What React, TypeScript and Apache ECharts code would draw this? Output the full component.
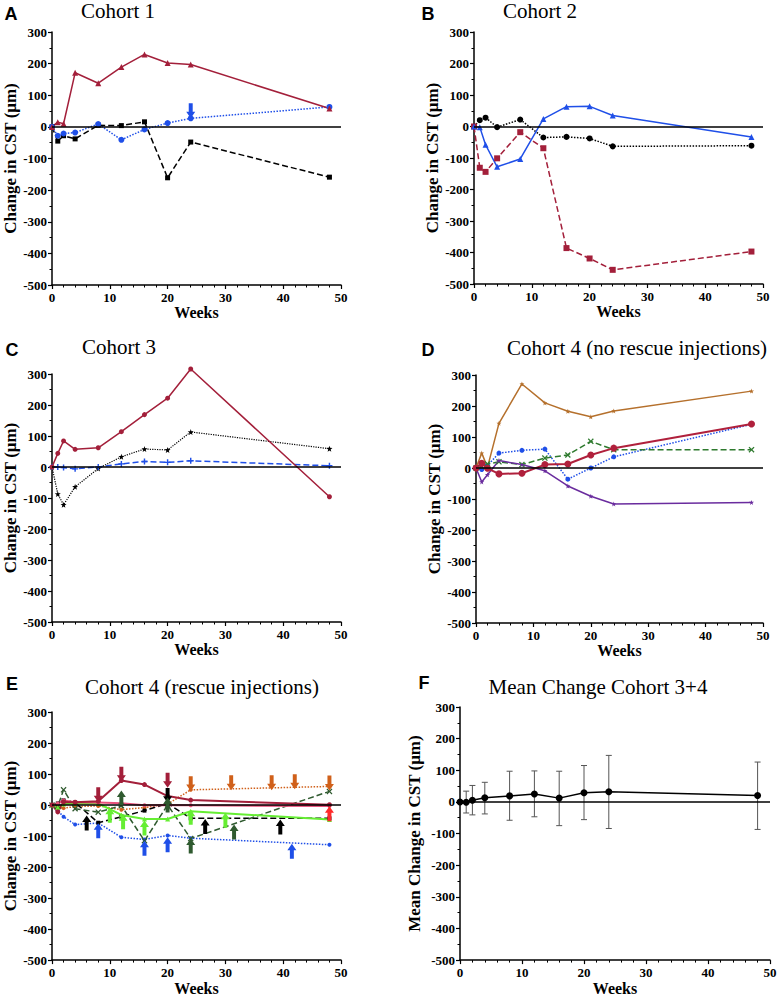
import React, { useEffect, useRef } from "react";
import * as echarts from "echarts";

// ---------- data ----------
const weeks = [0, 1, 2, 4, 8, 12, 16, 20, 24, 48];

// Panel A - Cohort 1
const aRed = [0, 15, 10, 171, 138, 189, 229, 202, 197, 58];
const aBlue = [0, -28, -21, -18, 9, -41, -8, 12, 27, 63];
const aBlack = [0, -45, -28, -38, 5, 4, 16, -161, -48, -159];
const aBlueArrowsDown = [[24, 51]];

// Panel B - Cohort 2
const bBlue = [0, -2, -58, -128, -103, 24, 63, 64, 35, -33];
const bBlack = [0, 20, 28, -2, 22, -35, -33, -38, -63, -61];
const bRed = [0, -131, -144, -101, -18, -69, -386, -419, -455, -397];

// Panel C - Cohort 3
const cRed = [0, 44, 84, 57, 62, 114, 169, 222, 316, -96];
const cBlack = [0, -87, -122, -64, -5, 33, 58, 55, 113, 59];
const cBlue = [0, 0, -2, -6, 0, 10, 18, 15, 20, 4];

// Panel D - Cohort 4 (no rescue injections)
const dBrown = [0, 48, 2, 144, 271, 210, 183, 165, 184, 248];
const dRed = [0, 15, -1, -19, -17, 11, 13, 42, 64, 142];
const dBlue = [0, -5, 8, 48, 57, 61, -36, 0, 36, 141];
const dGreen = [0, 5, 13, 20, 11, 32, 42, 86, 59, 59];
const dPurple = [0, -45, -22, 24, 11, -9, -58, -91, -116, -111];

// Panel E - Cohort 4 (rescue injections)
const eMaroon = [0, -22, 10, 9, 12, 79, 66, 29, 16, 1];
const ePink = [0, 5, 15, 9, 8, 6, -1, 0, -1, -3];
const eOrange = [0, -8, -10, -5, -3, -15, -8, 3, 49, 60];
const eLime = [0, -8, 3, 5, 5, -32, -45, -45, -20, -47];
const eDarkGreen = [0, -4, 49, -12, -23, -2, -115, 0, -108, 44];
const eBlack = [0, 5, 15, 8, -57, -38, -18, 5, -43, -43];
const eBlue = [0, -18, -38, -63, -58, -104, -111, -98, -107, -128];

const eMaroonArrowsDown = [[8, 33], [12, 99], [20, 80]];
const eOrangeArrowsDown = [[24, 69], [31, 72], [38, 72], [42, 75], [48, 71]];
const eBlackArrowsDown = [[20, 31]];
const eBlackArrowsUp = [[6, -58], [26.5, -69], [39.5, -71]];
const eBlueArrowsUp = [[8, -83], [16, -139], [20, -128], [41.5, -149]];
const eLimeArrowsUp = [[10, -33], [12.3, -54], [16, -74], [24, -39], [30, -49]];
const eDarkGreenArrowsUp = [[12, 23], [20, 0], [24, -132], [31.5, -87]];
const eRedArrowsUp = [[48, -28]];

// Panel F - Mean change cohort 3+4
const fMean = [0, -1, 5, 13, 19, 25, 12, 29, 32, 20];
const fUpper = [0, 34, 52, 62, 97, 98, 97, 115, 147, 126];
const fLower = [0, -35, -41, -38, -58, -47, -75, -56, -84, -87];

const xTicks = [0, 10, 20, 30, 40, 50];
const yTicks = [-500, -400, -300, -200, -100, 0, 100, 200, 300];

const panelTitles = [
  "Cohort 1",
  "Cohort 2",
  "Cohort 3",
  "Cohort 4 (no rescue injections)",
  "Cohort 4 (rescue injections)",
  "Mean Change Cohort 3+4",
];
const panelLetters = ["A", "B", "C", "D", "E", "F"];
const yTitle = "Change in CST (\u03bcm)";
const yTitleF = "Mean Change in CST (\u03bcm)";
const xTitle = "Weeks";

// ---------- styling ----------
const SERIF = '"Liberation Serif", "Times New Roman", serif';
const SANS = '"Liberation Sans", Arial, sans-serif';

const SYM_STAR = "path://M5,0 L6.2,3.6 L10,3.8 L7,6.2 L8.1,10 L5,7.8 L1.9,10 L3,6.2 L0,3.8 L3.8,3.6 Z";
const SYM_X = "path://M0,1.5 L1.5,0 L5,3.5 L8.5,0 L10,1.5 L6.5,5 L10,8.5 L8.5,10 L5,6.5 L1.5,10 L0,8.5 L3.5,5 Z";
const SYM_PLUS = "path://M3.8,0 H6.2 V3.8 H10 V6.2 H6.2 V10 H3.8 V6.2 H0 V3.8 H3.8 Z";
const SYM_ARROW = "path://M5,0 L10,7 L7.2,7 L7.2,16 L2.8,16 L2.8,7 L0,7 Z";

const C = {
  maroon: "#A31F3A",
  blue: "#1F4FE8",
  black: "#000000",
  brown: "#B5702C",
  dred: "#B0203C",
  dgreen: "#2E7A2E",
  purple: "#6A2C9E",
  orange: "#D0601A",
  pink: "#E8507A",
  lime: "#66EE33",
  egreen: "#2F5A2F",
  red: "#FF2A2A",
};

const grids = [
  { left: 52, top: 32, width: 289, height: 253 },
  { left: 474, top: 32, width: 289, height: 252 },
  { left: 52, top: 374, width: 289, height: 248 },
  { left: 476, top: 375, width: 287, height: 248 },
  { left: 52, top: 712, width: 289, height: 249 },
  { left: 460, top: 707, width: 310, height: 254 },
];
const titlePos = [
  [118, 11],
  [540, 11],
  [119, 347],
  [637, 348],
  [202, 687],
  [598, 687],
];
const letterPos = [
  [11, 14],
  [428, 14],
  [12, 350],
  [428, 350],
  [12, 684],
  [424, 683],
];

function pts(vals: number[]) {
  return weeks.map((w, i) => [w, vals[i]]);
}

function lineSeries(
  gi: number,
  vals: number[],
  color: string,
  type: string,
  symbol: string,
  size: number,
  width = 1.5,
  extra: any = {}
) {
  return {
    type: "line",
    xAxisIndex: gi,
    yAxisIndex: gi,
    data: pts(vals),
    symbol,
    symbolSize: size,
    showSymbol: true,
    clip: false,
    lineStyle: { color, width, type },
    itemStyle: { color, borderWidth: 0 },
    z: 3,
    ...extra,
  };
}

function arrows(gi: number, points: number[][], color: string, down: boolean) {
  return {
    type: "scatter",
    xAxisIndex: gi,
    yAxisIndex: gi,
    data: points,
    symbol: SYM_ARROW,
    symbolSize: [9, 15],
    symbolRotate: down ? 180 : 0,
    itemStyle: { color, opacity: 1 },
    z: 5,
  };
}

function zeroLine(gi: number) {
  return {
    type: "line",
    xAxisIndex: gi,
    yAxisIndex: gi,
    data: [],
    markLine: {
      silent: true,
      symbol: "none",
      label: { show: false },
      lineStyle: { color: "#000", width: 1.5, type: "solid" },
      data: [{ yAxis: 0 }],
    },
    z: 1,
  };
}

function buildOption() {
  const xAxis = grids.map((_, i) => ({
    gridIndex: i,
    type: "value",
    min: xTicks[0],
    max: xTicks[xTicks.length - 1],
    interval: 10,
    axisLine: { show: true, onZero: false, lineStyle: { color: "#000", width: 1.5 } },
    axisTick: { show: true, length: 4, lineStyle: { color: "#000", width: 1.2 } },
    minorTick: { show: true, splitNumber: 5, length: 2.5, lineStyle: { color: "#000", width: 1 } },
    splitLine: { show: false },
    axisLabel: { color: "#000", fontFamily: SERIF, fontWeight: "bold", fontSize: 13, margin: 6 },
    name: xTitle,
    nameLocation: "middle",
    nameGap: 19,
    nameTextStyle: { color: "#000", fontFamily: SERIF, fontWeight: "bold", fontSize: 16 },
  }));
  const yAxis = grids.map((_, i) => ({
    gridIndex: i,
    type: "value",
    min: yTicks[0],
    max: yTicks[yTicks.length - 1],
    interval: 100,
    axisLine: { show: true, onZero: false, lineStyle: { color: "#000", width: 1.5 } },
    axisTick: { show: true, length: 4, lineStyle: { color: "#000", width: 1.2 } },
    minorTick: { show: true, splitNumber: 2, length: 2.5, lineStyle: { color: "#000", width: 1 } },
    splitLine: { show: false },
    axisLabel: { color: "#000", fontFamily: SERIF, fontWeight: "bold", fontSize: 13, margin: 5 },
    name: i === 5 ? yTitleF : yTitle,
    nameLocation: "middle",
    nameRotate: 90,
    nameGap: i === 5 ? 37 : 33,
    nameTextStyle: { color: "#000", fontFamily: SERIF, fontWeight: "bold", fontSize: 17 },
  }));

  const series: any[] = [];
  for (let i = 0; i < 6; i++) series.push(zeroLine(i));

  // A
  series.push(lineSeries(0, aBlack, C.black, "dashed", "rect", 5));
  series.push(lineSeries(0, aBlue, C.blue, "dotted", "circle", 6));
  series.push(lineSeries(0, aRed, C.maroon, "solid", "triangle", 6));
  series.push(arrows(0, aBlueArrowsDown, C.blue, true));

  // B
  series.push(lineSeries(1, bBlack, C.black, "dotted", "circle", 6));
  series.push(lineSeries(1, bRed, C.maroon, "dashed", "rect", 6));
  series.push(lineSeries(1, bBlue, C.blue, "solid", "triangle", 6));

  // C
  series.push(lineSeries(2, cBlack, C.black, "dotted", SYM_STAR, 6, 1.2));
  series.push(lineSeries(2, cBlue, C.blue, "dashed", SYM_PLUS, 6));
  series.push(lineSeries(2, cRed, C.maroon, "solid", "circle", 5));

  // D
  series.push(lineSeries(3, dBrown, C.brown, "solid", SYM_STAR, 5));
  series.push(lineSeries(3, dBlue, C.blue, "dotted", "circle", 5));
  series.push(lineSeries(3, dGreen, C.dgreen, "dashed", SYM_X, 6));
  series.push(lineSeries(3, dPurple, C.purple, "solid", SYM_STAR, 5));
  series.push(lineSeries(3, dRed, C.dred, "solid", "circle", 7, 2));

  // E
  series.push(lineSeries(4, eBlue, C.blue, "dotted", "circle", 4));
  series.push(lineSeries(4, eOrange, C.orange, "dotted", "circle", 4));
  series.push(lineSeries(4, eBlack, C.black, "dashed", "rect", 4));
  series.push(lineSeries(4, eDarkGreen, C.egreen, "dashed", SYM_X, 6));
  series.push(lineSeries(4, eLime, C.lime, "solid", "triangle", 5, 2));
  series.push(lineSeries(4, ePink, C.pink, "solid", "circle", 4, 2));
  series.push(lineSeries(4, eMaroon, C.maroon, "solid", "circle", 5, 2));
  series.push(arrows(4, eMaroonArrowsDown, C.maroon, true));
  series.push(arrows(4, eOrangeArrowsDown, C.orange, true));
  series.push(arrows(4, eBlackArrowsDown, C.black, true));
  series.push(arrows(4, eBlackArrowsUp, C.black, false));
  series.push(arrows(4, eBlueArrowsUp, C.blue, false));
  series.push(arrows(4, eLimeArrowsUp, C.lime, false));
  series.push(arrows(4, eDarkGreenArrowsUp, C.egreen, false));
  series.push(arrows(4, eRedArrowsUp, C.red, false));

  // F error bars
  series.push({
    type: "custom",
    xAxisIndex: 5,
    yAxisIndex: 5,
    data: weeks.map((w, i) => [w, fLower[i], fUpper[i]]),
    encode: { x: 0, y: [1, 2] },
    renderItem: (params: any, api: any) => {
      const x = api.value(0);
      const lo = api.coord([x, api.value(1)]);
      const hi = api.coord([x, api.value(2)]);
      const hw = 3;
      const st = { stroke: "#555", lineWidth: 1 };
      return {
        type: "group",
        children: [
          { type: "line", shape: { x1: lo[0], y1: lo[1], x2: hi[0], y2: hi[1] }, style: st },
          { type: "line", shape: { x1: lo[0] - hw, y1: lo[1], x2: lo[0] + hw, y2: lo[1] }, style: st },
          { type: "line", shape: { x1: hi[0] - hw, y1: hi[1], x2: hi[0] + hw, y2: hi[1] }, style: st },
        ],
      };
    },
    z: 2,
  });
  series.push(lineSeries(5, fMean, C.black, "solid", "circle", 7, 1.5));

  const graphic: any[] = [];
  for (let i = 0; i < 6; i++) {
    graphic.push({
      type: "text",
      x: titlePos[i][0],
      y: titlePos[i][1],
      style: {
        text: panelTitles[i],
        font: `21px ${SERIF}`,
        fill: "#000",
        textAlign: "center",
        textVerticalAlign: "middle",
      },
    });
    graphic.push({
      type: "text",
      x: letterPos[i][0],
      y: letterPos[i][1],
      style: {
        text: panelLetters[i],
        font: `bold 18px ${SANS}`,
        fill: "#000",
        textAlign: "center",
        textVerticalAlign: "middle",
      },
    });
  }

  return {
    animation: false,
    backgroundColor: "#fff",
    grid: grids.map((g) => ({ ...g, containLabel: false })),
    xAxis,
    yAxis,
    series,
    graphic,
  };
}

export default function App() {
  const ref = useRef<HTMLDivElement>(null);
  useEffect(() => {
    document.body.style.margin = "0";
    if (!ref.current) return;
    const chart = echarts.init(ref.current, undefined, { renderer: "svg" });
    chart.setOption(buildOption() as any);
    return () => chart.dispose();
  }, []);
  return <div ref={ref} style={{ width: 780, height: 997 }} />;
}
